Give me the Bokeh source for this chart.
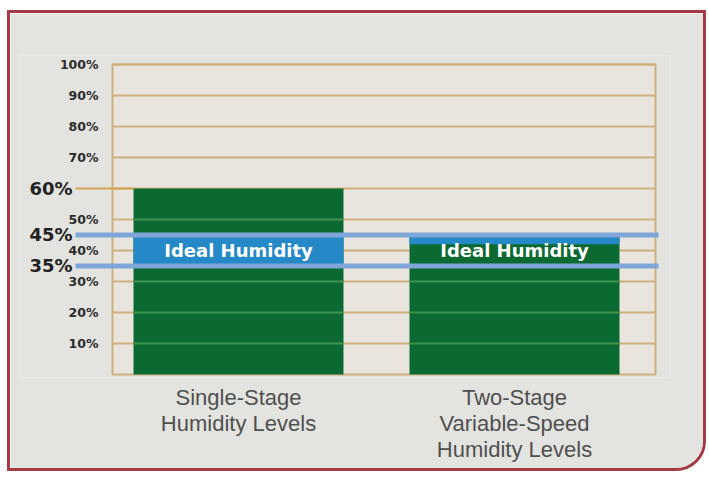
from bokeh.plotting import figure
from bokeh.models import Range1d, FixedTicker
from bokeh.core.properties import value
from bokeh.embed import file_html
from bokeh.resources import INLINE

# ---------------- data ----------------
categories = ["Single-Stage\nHumidity Levels", "Two-Stage\nVariable-Speed\nHumidity Levels"]
humidity = [60, 45]                 # bar heights (%)
ideal_low = 35                      # ideal humidity band (%)
ideal_high = 45
band_on_bar_low = [35, 42]          # where the blue tint starts on each bar (%)
grid_ticks = [10, 20, 30, 40, 50, 60, 70, 80, 90, 100]
small_ticks = [10, 20, 30, 40, 50, 70, 80, 90, 100]
small_labels = ["10%", "20%", "30%", "40%", "50%", "70%", "80%", "90%", "100%"]
big_ticks = [60, 45, 35]
big_labels = ["60%", "45%", "35%"]
band_text = "Ideal Humidity"

# ---------------- layout (screen px, for positioning only) ----------------
PX = 276.0                 # px per category unit
xs = [1, 2]                # bar centres in category units
bar_w = 210 / PX
box_l = 1 - 126 / PX       # plotting box left edge
box_r = 2 + 141 / PX       # plotting box right edge
x_start = 1 - 218 / PX
x_end = 2 + 156 / PX
line_l = 1 - 163 / PX      # left end of the highlighted lines
line_r = 2 + 144 / PX

panel = "#e3e3df"
box_fill = "#e9e5de"
tan = "#cdb07c"
green = "#0b6a31"
stripe = "#3f9450"
blue_fill = "#2489c6"
blue_line = "#7ea6d8"
wide_font = value("DejaVu Sans")

p = figure(width=699, height=461,
           x_range=Range1d(x_start, x_end), y_range=Range1d(-1, 102.9),
           output_backend="svg", toolbar_location=None,
           min_border_left=10, min_border_right=39, min_border_top=42, min_border_bottom=97,
           background_fill_color=panel, border_fill_color=panel,
           styles={"border": "3px solid #a63a44", "border-bottom-right-radius": "30px",
                   "overflow": "hidden", "margin-left": "7px", "margin-top": "10px"})
p.yaxis.visible = False
p.grid.visible = False
p.outline_line_color = None

# plotting box
p.quad(left=[box_l], right=[box_r], bottom=[0], top=[100],
       fill_color=box_fill, line_color=tan, line_width=2)
# grid lines
p.segment(x0=[box_l] * len(grid_ticks), x1=[box_r] * len(grid_ticks),
          y0=grid_ticks, y1=grid_ticks, line_color=tan, line_width=2)

# bars
p.vbar(x=xs, top=humidity, width=bar_w, bottom=0, fill_color=green, line_color=None)

# lighter stripes where grid crosses the bars
sx0, sx1, sy = [], [], []
for c, h in zip(xs, humidity):
    for t in grid_ticks:
        if t < h and not (ideal_low <= t <= ideal_high):
            sx0.append(c - bar_w / 2)
            sx1.append(c + bar_w / 2)
            sy.append(t)
p.segment(x0=sx0, x1=sx1, y0=sy, y1=sy, line_color=stripe, line_width=2)

# blue tint of the ideal band on the bars
tops = [min(h, ideal_high) for h in humidity]
p.quad(left=[c - bar_w / 2 for c in xs], right=[c + bar_w / 2 for c in xs],
       bottom=band_on_bar_low, top=tops, fill_color=blue_fill, line_color=None)

# 60% leader line
p.segment(x0=[line_l], x1=[xs[0] - bar_w / 2], y0=[humidity[0]], y1=[humidity[0]],
          line_color="#d3a552", line_width=2)

# ideal band lines
p.segment(x0=[line_l, line_l], x1=[line_r, line_r], y0=[ideal_high, ideal_low],
          y1=[ideal_high, ideal_low], line_color=blue_line, line_width=5)

# band labels
mid = (ideal_low + ideal_high) / 2
p.text(x=xs, y=[mid, mid], text=[band_text, band_text], text_color="white",
       text_font=wide_font, text_font_style="bold", text_font_size="18px",
       text_align="center", text_baseline="middle")

# y labels
p.text(x=[box_l] * len(small_ticks), y=small_ticks, text=small_labels, x_offset=-14,
       text_color="#2b2b2b", text_font=wide_font, text_font_style="bold",
       text_font_size="12.5px", text_align="right", text_baseline="middle")
p.text(x=[box_l] * len(big_ticks), y=big_ticks, text=big_labels, x_offset=-40,
       text_color="#222222", text_font=wide_font, text_font_style="bold",
       text_font_size="18px", text_align="right", text_baseline="middle")

# category axis
p.xaxis.ticker = FixedTicker(ticks=xs)
p.xaxis.major_label_overrides = {x: c for x, c in zip(xs, categories)}
p.xaxis.axis_line_color = None
p.xaxis.major_tick_line_color = None
p.xaxis.minor_tick_line_color = None
p.xaxis.major_tick_out = 0
p.xaxis.major_label_standoff = 7
p.xaxis.major_label_text_font = "Liberation Sans"
p.xaxis.major_label_text_font_size = "22px"
p.xaxis.major_label_text_color = "#505050"
p.xaxis.major_label_text_line_height = 1.05

open("out.html", "w").write(file_html(p, INLINE))
